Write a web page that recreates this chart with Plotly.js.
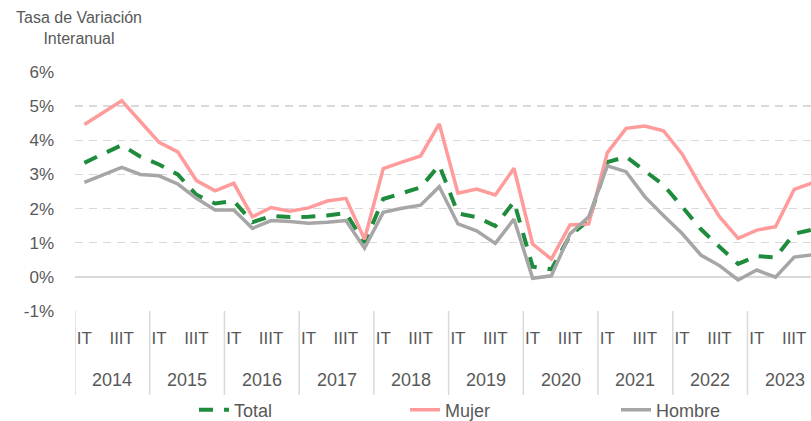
<!DOCTYPE html>
<html>
<head>
<meta charset="utf-8">
<script src="https://cdn.plot.ly/plotly-3.0.1.min.js"></script>
<style>
  html, body { margin: 0; padding: 0; background: #ffffff; overflow: hidden; }
  #chart { width: 811px; height: 421px; }
</style>
</head>
<body>
<div id="chart"></div>
<script>
// ---- Data ----
const years = ['2014', '2015', '2016', '2017', '2018', '2019', '2020', '2021', '2022', '2023'];
const quarters = ['IT', 'IIT', 'IIIT', 'IVT'];
const shownQuarterLabels = ['IT', 'IIIT'];

const total = [
  3.34, 3.60, 3.86, 3.52,
  3.29, 3.00, 2.40, 2.15,
  2.22, 1.60, 1.78, 1.75,
  1.76, 1.80, 1.87, 1.00,
  2.28, 2.45, 2.62, 3.27,
  1.86, 1.75, 1.49, 2.20,
  0.30, 0.22, 1.21, 1.65,
  3.36, 3.52, 3.10, 2.69,
  2.06, 1.40, 0.88, 0.38,
  0.61, 0.57, 1.26, 1.39
];
const mujer = [
  4.46, 4.82, 5.16, 4.55,
  3.94, 3.66, 2.82, 2.52,
  2.74, 1.76, 2.03, 1.92,
  2.02, 2.22, 2.30, 1.10,
  3.17, 3.36, 3.54, 4.48,
  2.45, 2.57, 2.40, 3.18,
  0.96, 0.52, 1.52, 1.55,
  3.64, 4.35, 4.42, 4.28,
  3.60, 2.64, 1.76, 1.13,
  1.37, 1.47, 2.56, 2.76
];
const hombre = [
  2.77, 2.99, 3.21, 3.00,
  2.96, 2.72, 2.30, 1.96,
  1.96, 1.42, 1.65, 1.62,
  1.57, 1.60, 1.65, 0.84,
  1.89, 2.01, 2.10, 2.64,
  1.55, 1.35, 0.98, 1.69,
  -0.04, 0.03, 1.26, 1.76,
  3.25, 3.08, 2.35, 1.80,
  1.27, 0.64, 0.33, -0.09,
  0.20, -0.01, 0.58, 0.65
];
const yTickValues = [-1, 0, 1, 2, 3, 4, 5, 6];
const yTickLabels = ['-1%', '0%', '1%', '2%', '3%', '4%', '5%', '6%'];
const yAxisTitle = 'Tasa de Variación<br>Interanual';

// ---- Derived ----
const xIdx = [];
const tickVals = [];
const tickText = [];
years.forEach((y, yi) => {
  quarters.forEach((q, qi) => {
    const i = yi * quarters.length + qi;
    xIdx.push(i);
    if (shownQuarterLabels.includes(q)) { tickVals.push(i); tickText.push(q); }
  });
});

const txtColor = '#595959';
const gridColor = '#D9D9D9';
const fontFam = '"Liberation Sans", Arial, sans-serif';

const traces = [
  { x: xIdx, y: total, name: 'Total', type: 'scatter', mode: 'lines',
    line: { color: '#1E8C3C', width: 4, dash: '14px,11px' }, hoverinfo: 'skip' },
  { x: xIdx, y: mujer, name: 'Mujer', type: 'scatter', mode: 'lines',
    line: { color: '#FF9B9B', width: 3.5 }, hoverinfo: 'skip' },
  { x: xIdx, y: hombre, name: 'Hombre', type: 'scatter', mode: 'lines',
    line: { color: '#A6A6A6', width: 3.5 }, hoverinfo: 'skip' }
];

const shapes = [];
const plotBottomPx = 311, plotHeightPx = 239, plotTopPx = 72;
const annotations = [{
  xref: 'paper', yref: 'paper', x: 4 / 736, y: 1 + (plotTopPx - 28) / plotHeightPx,
  xanchor: 'center', yanchor: 'middle', text: yAxisTitle, showarrow: false,
  font: { size: 16, color: txtColor, family: fontFam }
}];
years.forEach((y, yi) => {
  const start = yi * quarters.length - 0.5;
  shapes.push({ type: 'line', xref: 'x', yref: 'paper', x0: start, x1: start,
    y0: 0, y1: (plotBottomPx - 395) / plotHeightPx,
    line: { color: gridColor, width: 1.5 } });
  annotations.push({ xref: 'x', yref: 'paper', x: start + quarters.length / 2,
    y: (plotBottomPx - 380) / plotHeightPx, yanchor: 'middle', xanchor: 'center',
    text: y, showarrow: false, font: { size: 18, color: txtColor, family: fontFam } });
});

const layout = {
  width: 811, height: 421,
  margin: { l: 75, r: 0, t: 72, b: 110 },
  paper_bgcolor: '#ffffff', plot_bgcolor: '#ffffff',
  font: { family: fontFam, color: txtColor, size: 17 },
  xaxis: {
    range: [-0.5, 38.9], showgrid: false, zeroline: false, showline: false,
    tickmode: 'array', tickvals: tickVals, ticktext: tickText, ticks: '',
    ticklabelstandoff: 15, tickfont: { size: 17, color: txtColor }, fixedrange: true
  },
  yaxis: {
    range: [-1, 6], tickmode: 'array', tickvals: yTickValues, ticktext: yTickLabels,
    showgrid: true, gridcolor: gridColor, gridwidth: 1.5, griddash: '8px,6px',
    zeroline: true, zerolinecolor: gridColor, zerolinewidth: 1.5,
    showline: false, ticks: '', ticklabelstandoff: 20,
    tickfont: { size: 17, color: txtColor }, fixedrange: true
  },
  showlegend: true,
  legend: { orientation: 'h', xref: 'container', yref: 'container',
    x: 194 / 811, xanchor: 'left', y: 11 / 421, yanchor: 'middle',
    entrywidth: 166, font: { size: 18, color: txtColor }, bgcolor: 'rgba(0,0,0,0)' },
  shapes: shapes,
  annotations: annotations
};

Plotly.newPlot('chart', traces, layout, { displayModeBar: false, staticPlot: true });
</script>
</body>
</html>
